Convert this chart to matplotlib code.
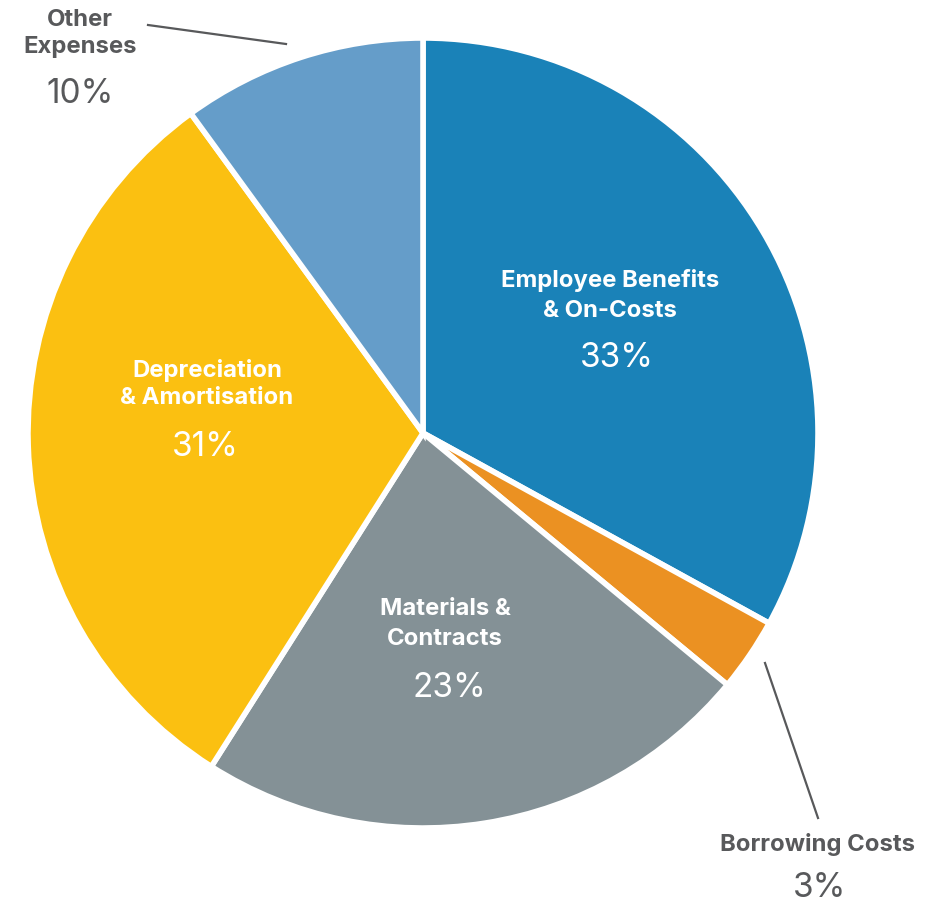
import matplotlib
matplotlib.use("Agg")
import matplotlib.pyplot as plt

categories = ["Employee Benefits & On-Costs", "Borrowing Costs", "Materials & Contracts",
              "Depreciation & Amortisation", "Other Expenses"]
values = [33, 3, 23, 31, 10]
colors = ["#1a82b8", "#eb9122", "#849196", "#fbc011", "#659dc9"]

W, H = 941, 906
fig = plt.figure(figsize=(W / 100, H / 100), dpi=100)
ax = fig.add_axes([0, 0, 1, 1])
ax.set_xlim(0, W)
ax.set_ylim(0, H)
ax.set_aspect("equal")
ax.axis("off")

cx, cy, R = 423, H - 433, 395
ax.pie(values, colors=colors, startangle=90, counterclock=False,
       center=(cx, cy), radius=R, frame=True,
       wedgeprops=dict(edgecolor="white", linewidth=4))
ax.set_xlim(0, W)
ax.set_ylim(0, H)
ax.axis("off")

FONT = ["Inter", "DejaVu Sans"]
BS = 17.2
PS = 24
dark = "#58595b"

def t(x, y, s, size, color, weight="bold"):
    ax.text(x, H - y, s, ha="center", va="center", fontsize=size, color=color,
            fontweight=weight, family=FONT)

# inside labels
t(610, 280, "Employee Benefits", BS, "white")
t(610, 311, "& On-Costs", BS, "white")
t(617, 358, f"{values[0]}%", PS, "white", "normal")

t(207, 370, "Depreciation", BS, "white")
t(207, 398, "& Amortisation", BS, "white")
t(205, 447, f"{values[3]}%", PS, "white", "normal")

t(445, 609, "Materials &", BS, "white")
t(445, 639, "Contracts", BS, "white")
t(449, 688, f"{values[2]}%", PS, "white", "normal")

# outside labels
t(80, 20, "Other", BS, dark)
t(80, 47, "Expenses", BS, dark)
t(80, 94, f"{values[4]}%", PS, dark, "normal")
ax.plot([148, 286], [H - 25, H - 44], color=dark, lw=1.6)

t(818, 845, "Borrowing Costs", BS, dark)
t(820, 888, f"{values[1]}%", PS, dark, "normal")
ax.plot([765, 818], [H - 663, H - 818], color=dark, lw=1.6)

fig.savefig("out.png", dpi=100, facecolor="white")
